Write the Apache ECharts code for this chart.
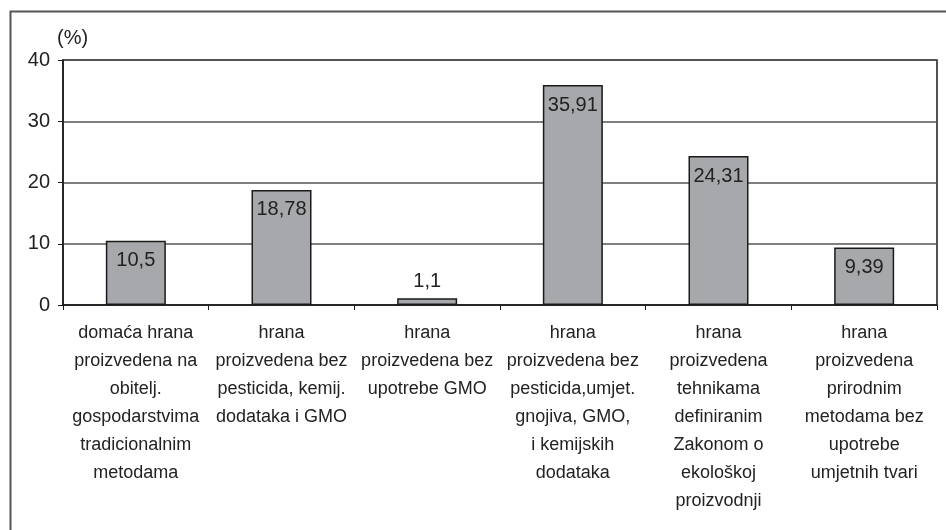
<!DOCTYPE html>
<html>
<head>
<meta charset="utf-8">
<script src="https://cdn.jsdelivr.net/npm/echarts@6/dist/echarts.min.js"></script>
<style>
  html, body { margin: 0; padding: 0; background: #fff; }
  #myChart { width: 946px; height: 530px; }
</style>
</head>
<body>
<div id="myChart"></div>
<script>
// kategorije (osi x), vrijednosti u postocima
var categories = [
  'domaća hrana\nproizvedena na\nobitelj.\ngospodarstvima\ntradicionalnim\nmetodama',
  'hrana\nproizvedena bez\npesticida, kemij.\ndodataka i GMO',
  'hrana\nproizvedena bez\nupotrebe GMO',
  'hrana\nproizvedena bez\npesticida,umjet.\ngnojiva, GMO,\ni kemijskih\ndodataka',
  'hrana\nproizvedena\ntehnikama\ndefiniranim\nZakonom o\nekološkoj\nproizvodnji',
  'hrana\nproizvedena\nprirodnim\nmetodama bez\nupotrebe\numjetnih tvari'
];
var values = [10.5, 18.78, 1.1, 35.91, 24.31, 9.39];
var yTicks = [0, 10, 20, 30, 40];

var font = '"Liberation Sans", Arial, sans-serif';

// niski stupci dobivaju natpis iznad stupca
var barData = values.map(function (v) {
  if (v < 5) {
    return { value: v, label: { position: 'top', distance: 7 } };
  }
  return v;
});

var myChart = echarts.init(document.getElementById('myChart'));
myChart.setOption({
  animation: false,
  textStyle: { fontFamily: font },
  graphic: [{
    type: 'rect',
    left: 8, top: 9,
    shape: { width: 960, height: 540 },
    style: { fill: 'none', stroke: '#555', lineWidth: 2 },
    silent: true
  }],
  grid: {
    left: 63, top: 60, right: 9, bottom: 225,
    show: true,
    borderColor: '#1a1a1a',
    borderWidth: 1.5
  },
  xAxis: {
    type: 'category',
    data: categories,
    axisLine: { lineStyle: { color: '#1a1a1a', width: 1.5 } },
    axisTick: { show: true, length: 5, lineStyle: { color: '#1a1a1a', width: 1 } },
    axisLabel: {
      interval: 0,
      margin: 14,
      color: '#222',
      fontSize: 18,
      lineHeight: 28,
      fontFamily: font
    }
  },
  yAxis: {
    type: 'value',
    min: yTicks[0],
    max: yTicks[yTicks.length - 1],
    interval: 10,
    name: '(%)',
    nameLocation: 'end',
    nameGap: 12,
    nameTextStyle: { color: '#222', fontSize: 20, fontFamily: font, align: 'left', padding: [0, 0, 0, -6] },
    axisLine: { show: true, lineStyle: { color: '#1a1a1a', width: 1.5 } },
    axisTick: { show: true, length: 5, lineStyle: { color: '#1a1a1a' } },
    axisLabel: { margin: 13, color: '#222', fontSize: 20, fontFamily: font },
    splitLine: { show: true, lineStyle: { color: '#555', width: 1.5 } }
  },
  series: [{
    type: 'bar',
    data: barData,
    barWidth: 60,
    itemStyle: { color: '#a7a8ab', borderColor: '#1a1a1a', borderWidth: 1.5 },
    label: {
      show: true,
      position: 'insideTop',
      distance: 10,
      color: '#222',
      fontSize: 20,
      fontFamily: font,
      formatter: function (p) { return String(p.value).replace('.', ','); }
    }
  }]
});
</script>
</body>
</html>
